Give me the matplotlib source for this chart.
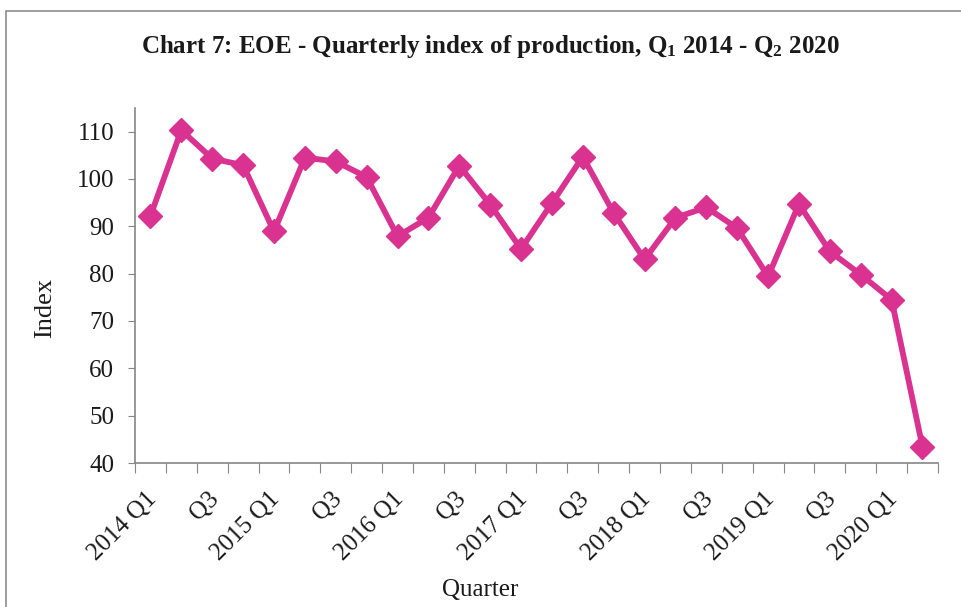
import matplotlib
matplotlib.use("Agg")
import matplotlib.pyplot as plt
from matplotlib.patches import Rectangle
from matplotlib.transforms import ScaledTranslation

# Quarterly index of production, 2014 Q1 - 2020 Q2
years = [2014, 2015, 2016, 2017, 2018, 2019, 2020]
quarters = ["%d Q%d" % (y, q) for y in years for q in (1, 2, 3, 4)][:26]
index = [92.2, 110.3, 104.3, 102.9, 88.9, 104.5, 103.7, 100.4,
         87.9, 91.8, 102.8, 94.6, 85.2, 94.9, 104.7, 92.8,
         83.0, 91.8, 94.0, 89.6, 79.4, 94.7, 84.7, 79.8,
         74.5, 43.4]
tick_labels = [q if q.endswith("Q1") else "Q3" for q in quarters[::2]]

plt.rcParams['font.family'] = ['Liberation Serif', 'DejaVu Serif']
plt.rcParams['mathtext.fontset'] = 'custom'
plt.rcParams['mathtext.rm'] = 'Liberation Serif:bold'
plt.rcParams['mathtext.it'] = 'Liberation Serif:bold'
plt.rcParams['mathtext.bf'] = 'Liberation Serif:bold'

txt = '#1a1a1a'
grey = '#868686'
pink = '#DA3290'

fig = plt.figure(figsize=(9.61, 6.07), dpi=100)
ax = fig.add_axes([0.1405, 0.2372, 0.8355, 0.585])

x = list(range(len(index)))
ax.plot(x, index, color=pink, lw=4.2, marker='D', markersize=12,
        solid_joinstyle='miter')

ax.set_xlim(-0.5, len(index) - 0.5)
ax.set_ylim(40, 115)
ax.set_yticks(range(40, 111, 10))

# ticks on category boundaries, labels at every other category
ax.set_xticks([i - 0.5 for i in range(len(index) + 1)])
ax.set_xticklabels([])
ax.set_xticks(x[::2], minor=True)
ax.set_xticklabels(tick_labels, minor=True, rotation=45, ha='right',
                   va='top', rotation_mode='anchor', fontsize=18, color=txt)
ax.tick_params(axis='x', which='minor', length=0, pad=18)
ax.tick_params(axis='x', which='major', length=7, color=grey, direction='out')
ax.tick_params(axis='y', length=5, color=grey, labelsize=18, labelcolor=txt, pad=10)
shift = ScaledTranslation(-0.05, 0, fig.dpi_scale_trans)
for lbl in ax.get_xticklabels(minor=True):
    lbl.set_transform(lbl.get_transform() + shift)

for s in ['top', 'right']:
    ax.spines[s].set_visible(False)
for s in ['left', 'bottom']:
    ax.spines[s].set_color(grey)
    ax.spines[s].set_linewidth(1.2)

fig.text(45 / 961, 1 - 308 / 607, "Index", rotation=90, ha='center', va='center',
         fontsize=19, color=txt)
fig.text(480 / 961, 1 - 590 / 607, "Quarter", ha='center', va='center',
         fontsize=18, color=txt)

fig.text(490 / 961, 1 - 46 / 607,
         "Chart 7: EOE - Quarterly index of production, Q$_1$ 2014 - Q$_2$ 2020",
         ha='center', va='center', fontsize=18, fontweight='bold', color=txt)

# outer chart frame (cropped on the right and bottom)
fig.patches.append(Rectangle((5.5 / 961, -0.1), 1.2, 1.1 - 11 / 607,
                             transform=fig.transFigure, fill=False,
                             edgecolor='#8c8c8c', lw=1.2, clip_on=False))

fig.savefig("out.png", dpi=100)
